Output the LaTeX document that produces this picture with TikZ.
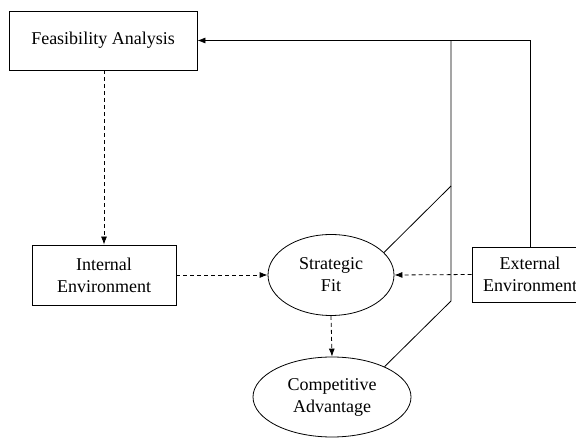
\documentclass[tikz,border=0pt]{standalone}
\usepackage{fontspec}
\setmainfont{Liberation Serif}
\usetikzlibrary{shapes.geometric,arrows.meta}
\begin{document}
\begin{tikzpicture}[x=1pt,y=-1pt]
\tikzstyle{block} = [draw,line width=0.8pt,align=center,inner sep=0,font=\fontsize{18}{22}\selectfont]
\tikzstyle{oval} = [block,ellipse]
\tikzstyle{tip} = [-{Latex[length=8pt,width=6pt]}]
\tikzstyle{dashline} = [line width=0.8pt,dash pattern=on 4pt off 3pt]
\useasboundingbox (0,0) rectangle (576,438);
\node [block,minimum width=188,minimum height=59] (feas) at (103,40.5) {Feasibility Analysis};
\node [block,minimum width=144,minimum height=60] (inte) at (104,275) {Internal\\Environment};
\node [block,minimum width=116,minimum height=55] (exte) at (530,274.5) {External\\Environment};
\node [oval,minimum width=126,minimum height=81] (strat) at (331,275) {Strategic\\Fit};
\node [oval,minimum width=158,minimum height=80] (comp) at (332,397) {Competitive\\Advantage};
\coordinate (j1) at (451,40.5);
\coordinate (j2) at (451,186);
\coordinate (j3) at (451,301);

\draw [tip,line width=0.8pt] (exte.north) |- (feas.east);
\draw [line width=0.8pt] (strat.23) -- (j2);
\draw [line width=0.8pt] (comp.30) -- (j3) -- (j1);

\draw [dashline,tip] (inte.north |- feas.south) -- (inte.north);
\draw [dashline,tip] (inte.east) -- (strat.west);
\draw [dashline,tip] (exte.west) -- (strat.east);
\draw [dashline,tip] (strat.south) -- (comp.north);
\end{tikzpicture}
\end{document}
